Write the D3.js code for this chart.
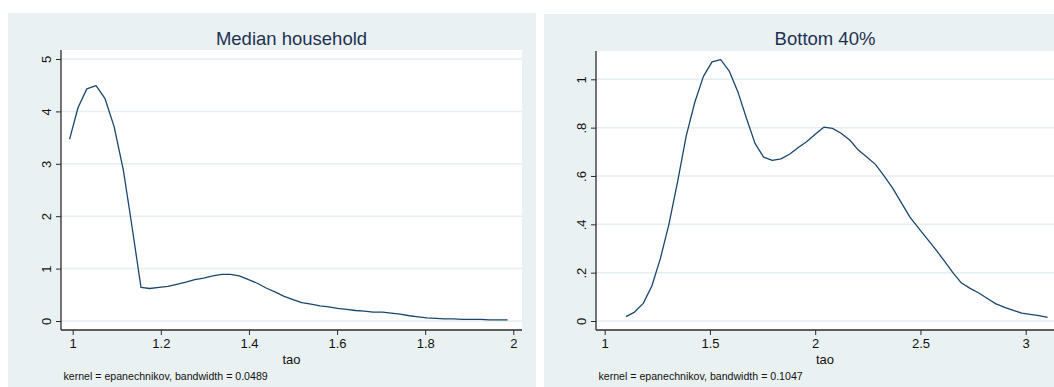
<!DOCTYPE html>
<html>
<head>
<meta charset="utf-8">
<script src="https://cdn.jsdelivr.net/npm/d3@7"></script>
<style>
  html, body { margin: 0; padding: 0; background: #ffffff; }
  svg { display: block; font-family: "Liberation Sans", Arial, sans-serif; }
</style>
</head>
<body>
<svg id="chart" width="1054" height="387"></svg>
<script>
// Kernel density estimates of tao (50 evaluation points each)
const medianTao = [0.993, 1.012, 1.032, 1.053, 1.073, 1.094, 1.115, 1.135, 1.155, 1.175,
  1.196, 1.216, 1.236, 1.257, 1.277, 1.297, 1.318, 1.338, 1.358, 1.378,
  1.399, 1.419, 1.439, 1.460, 1.480, 1.500, 1.520, 1.541, 1.561, 1.581,
  1.601, 1.622, 1.642, 1.662, 1.682, 1.703, 1.723, 1.743, 1.764, 1.784,
  1.804, 1.824, 1.845, 1.865, 1.885, 1.905, 1.926, 1.946, 1.966, 1.987];
const medianDensity = [3.47, 4.07, 4.43, 4.49, 4.25, 3.71, 2.88, 1.78, 0.64, 0.62,
  0.64, 0.66, 0.70, 0.74, 0.79, 0.82, 0.86, 0.89, 0.89, 0.86,
  0.79, 0.72, 0.63, 0.55, 0.47, 0.41, 0.35, 0.32, 0.29, 0.27,
  0.24, 0.22, 0.20, 0.19, 0.17, 0.17, 0.15, 0.13, 0.10, 0.08,
  0.06, 0.05, 0.04, 0.04, 0.03, 0.03, 0.03, 0.02, 0.02, 0.02];

const bottomTao = [1.101, 1.142, 1.183, 1.224, 1.264, 1.305, 1.346, 1.387, 1.428, 1.469,
  1.510, 1.551, 1.591, 1.632, 1.673, 1.714, 1.755, 1.796, 1.837, 1.878,
  1.918, 1.959, 2.000, 2.041, 2.082, 2.123, 2.164, 2.205, 2.245, 2.286,
  2.327, 2.368, 2.409, 2.450, 2.491, 2.532, 2.573, 2.614, 2.654, 2.695,
  2.736, 2.777, 2.818, 2.859, 2.900, 2.941, 2.981, 3.022, 3.063, 3.104];
const bottomDensity = [0.018, 0.037, 0.073, 0.145, 0.257, 0.400, 0.575, 0.765, 0.905, 1.012,
  1.072, 1.081, 1.035, 0.950, 0.840, 0.735, 0.678, 0.665, 0.671, 0.690,
  0.717, 0.742, 0.773, 0.802, 0.797, 0.777, 0.749, 0.707, 0.679, 0.648,
  0.600, 0.550, 0.490, 0.430, 0.384, 0.340, 0.295, 0.248, 0.200, 0.157,
  0.135, 0.116, 0.093, 0.071, 0.056, 0.044, 0.033, 0.027, 0.022, 0.015];

// Axis ticks and labels
const medianXTicks = [1, 1.2, 1.4, 1.6, 1.8, 2];
const medianXLabels = ["1", "1.2", "1.4", "1.6", "1.8", "2"];
const medianYTicks = [0, 1, 2, 3, 4, 5];
const medianYLabels = ["0", "1", "2", "3", "4", "5"];
const bottomXTicks = [1, 1.5, 2, 2.5, 3];
const bottomXLabels = ["1", "1.5", "2", "2.5", "3"];
const bottomYTicks = [0, 0.2, 0.4, 0.6, 0.8, 1];
const bottomYLabels = ["0", ".2", ".4", ".6", ".8", "1"];

const titles = ["Median household", "Bottom 40%"];
const notes = ["kernel = epanechnikov, bandwidth = 0.0489",
               "kernel = epanechnikov, bandwidth = 0.1047"];
const xTitle = "tao";

const panels = [
  {
    title: titles[0], note: notes[0],
    xs: medianTao, ys: medianDensity,
    xTicks: medianXTicks, xLabels: medianXLabels,
    yTicks: medianYTicks, yLabels: medianYLabels,
    xDomain: [1, 2], xRange: [72.7, 513.3],
    yDomain: [0, 5], yRange: [321, 59],
    bg: { x: 8, y: 13, w: 528, h: 374 },
    plot: { left: 61, right: 522, top: 50, bottom: 330 }
  },
  {
    title: titles[1], note: notes[1],
    xs: bottomTao, ys: bottomDensity,
    xTicks: bottomXTicks, xLabels: bottomXLabels,
    yTicks: bottomYTicks, yLabels: bottomYLabels,
    xDomain: [1, 3], xRange: [604.7, 1025.7],
    yDomain: [0, 1], yRange: [321, 79.3],
    bg: { x: 544, y: 14, w: 510, h: 373 },
    plot: { left: 596, right: 1054, top: 51, bottom: 330 }
  }
];

const svg = d3.select("#chart");
const regionColor = "#eaf1f3";
const gridColor = "#e6eef1";
const lineColor = "#1a476f";
const axisColor = "#2b2b2b";
const titleColor = "#1e3152";

panels.forEach(p => {
  const g = svg.append("g");
  const x = d3.scaleLinear().domain(p.xDomain).range(p.xRange);
  const y = d3.scaleLinear().domain(p.yDomain).range(p.yRange);

  // graph region
  g.append("rect")
    .attr("x", p.bg.x).attr("y", p.bg.y)
    .attr("width", p.bg.w).attr("height", p.bg.h)
    .attr("fill", regionColor);

  // plot region
  g.append("rect")
    .attr("x", p.plot.left).attr("y", p.plot.top)
    .attr("width", p.plot.right - p.plot.left)
    .attr("height", p.plot.bottom - p.plot.top)
    .attr("fill", "#ffffff");

  // horizontal grid lines
  g.selectAll(".grid")
    .data(p.yTicks)
    .join("line")
    .attr("x1", p.plot.left).attr("x2", p.plot.right)
    .attr("y1", d => y(d)).attr("y2", d => y(d))
    .attr("stroke", gridColor)
    .attr("stroke-width", 1.5);

  // density curve
  const pts = p.xs.map((v, i) => [v, p.ys[i]]);
  g.append("path")
    .datum(pts)
    .attr("d", d3.line().x(d => x(d[0])).y(d => y(d[1])))
    .attr("fill", "none")
    .attr("stroke", lineColor)
    .attr("stroke-width", 1.3)
    .attr("stroke-linejoin", "round");

  // x axis
  const xAxis = d3.axisBottom(x)
    .tickValues(p.xTicks)
    .tickFormat((d, i) => p.xLabels[i])
    .tickSize(5)
    .tickPadding(4);
  const gx = g.append("g")
    .attr("transform", `translate(0,${p.plot.bottom})`)
    .call(xAxis);
  gx.select(".domain").remove();
  gx.selectAll(".tick line").attr("stroke", axisColor).attr("stroke-width", 1);
  gx.selectAll(".tick text")
    .attr("fill", "#111")
    .attr("font-size", 13)
    .attr("font-family", "Liberation Sans, Arial, sans-serif");
  g.append("line")
    .attr("x1", p.plot.left).attr("x2", p.plot.right)
    .attr("y1", p.plot.bottom).attr("y2", p.plot.bottom)
    .attr("stroke", axisColor).attr("stroke-width", 1.3);

  // y axis with rotated labels
  const yAxis = d3.axisLeft(y)
    .tickValues(p.yTicks)
    .tickFormat((d, i) => p.yLabels[i])
    .tickSize(5);
  const gy = g.append("g")
    .attr("transform", `translate(${p.plot.left},0)`)
    .call(yAxis);
  gy.select(".domain").remove();
  gy.selectAll(".tick line").attr("stroke", axisColor).attr("stroke-width", 1);
  gy.selectAll(".tick text")
    .attr("x", null).attr("dy", null)
    .attr("transform", "translate(-10,0) rotate(-90)")
    .attr("text-anchor", "middle")
    .attr("fill", "#111")
    .attr("font-size", 13)
    .attr("font-family", "Liberation Sans, Arial, sans-serif");
  g.append("line")
    .attr("x1", p.plot.left).attr("x2", p.plot.left)
    .attr("y1", p.plot.top).attr("y2", p.plot.bottom)
    .attr("stroke", axisColor).attr("stroke-width", 1.3);

  const cx = (p.plot.left + p.plot.right) / 2;

  // panel title
  g.append("text")
    .attr("x", cx).attr("y", 44.5)
    .attr("text-anchor", "middle")
    .attr("fill", titleColor)
    .attr("font-size", 18.5)
    .text(p.title);

  // x axis title
  g.append("text")
    .attr("x", cx).attr("y", 364)
    .attr("text-anchor", "middle")
    .attr("fill", "#111")
    .attr("font-size", 13)
    .text(xTitle);

  // kernel note
  g.append("text")
    .attr("x", p.plot.left + 2.5).attr("y", 380)
    .attr("fill", "#111")
    .attr("font-size", 10.6)
    .text(p.note);
});
</script>
</body>
</html>
